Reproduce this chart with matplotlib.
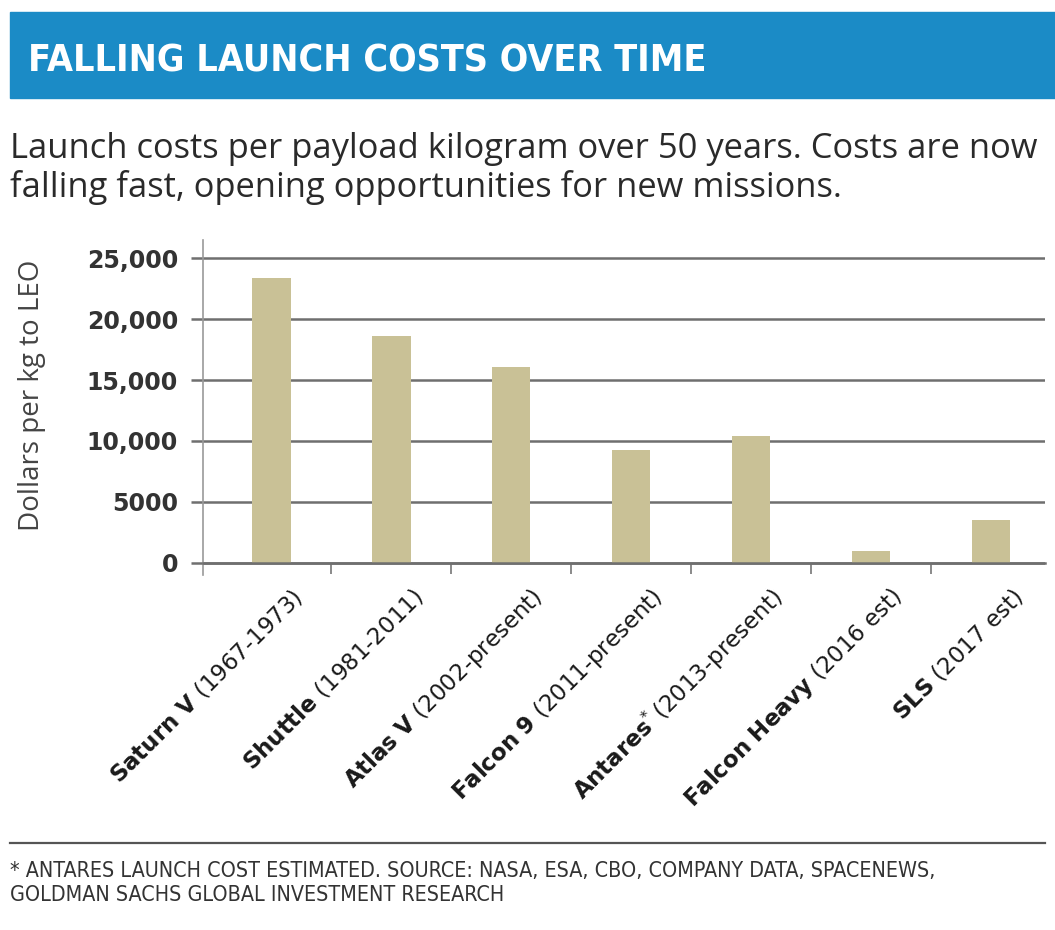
import matplotlib
matplotlib.use("Agg")
import matplotlib.pyplot as plt
from matplotlib.patches import Rectangle
from matplotlib.lines import Line2D
from matplotlib.transforms import ScaledTranslation
import numpy as np

vehicles = [r"$\mathbf{Saturn\ V}$ (1967-1973)",
            r"$\mathbf{Shuttle}$ (1981-2011)",
            r"$\mathbf{Atlas\ V}$ (2002-present)",
            r"$\mathbf{Falcon\ 9}$ (2011-present)",
            r"$\mathbf{Antares}^{*}\,$(2013-present)",
            r"$\mathbf{Falcon\ Heavy}$ (2016 est)",
            r"$\mathbf{SLS}$ (2017 est)"]
cost_per_kg = [23400, 18600, 16100, 9300, 10400, 1000, 3500]
yticks = [0, 5000, 10000, 15000, 20000, 25000]
ytick_labels = ["0", "5000", "10,000", "15,000", "20,000", "25,000"]

blue = "#1b8bc6"
bar_color = "#c9c196"
grid_color = "#6f6f6f"

fig = plt.figure(figsize=(10.55, 9.3), dpi=100)
fig.patch.set_facecolor("white")

# header band
fig.patches.append(Rectangle((10 / 1055, 1 - 98 / 930), 1.0, 86 / 930,
                             transform=fig.transFigure, color=blue, zorder=0))
fig.text(28 / 1055, 1 - 61 / 930, "FALLING LAUNCH COSTS OVER TIME",
         family="DejaVu Sans", stretch="condensed", weight="bold",
         fontsize=27, color="white", va="center", ha="left")

fig.text(10 / 1055, 1 - 158 / 930,
         "Launch costs per payload kilogram over 50 years. Costs are now",
         family="Open Sans", fontsize=24.8, color="#2a2a2a", va="baseline")
fig.text(10 / 1055, 1 - 197 / 930,
         "falling fast, opening opportunities for new missions.",
         family="Open Sans", fontsize=24.8, color="#2a2a2a", va="baseline")

ax = fig.add_axes([203 / 1055, 355 / 930, 842 / 1055, 335 / 930])
x = np.arange(len(vehicles))
ax.bar(x, cost_per_kg, width=0.32, color=bar_color, zorder=2)

ax.set_xlim(-0.57, 6.45)
ax.set_ylim(-1000, 26500)
ax.set_yticks(yticks)
ax.set_yticklabels(ytick_labels, family="DejaVu Sans", weight="bold",
                   fontsize=17, color="#333333")
ax.grid(axis="y", color=grid_color, linewidth=1.8, zorder=1)
ax.tick_params(axis="y", direction="out", length=9, width=1.8,
               color=grid_color, pad=9)

for s in ["top", "right"]:
    ax.spines[s].set_visible(False)
ax.spines["left"].set_color("#9a9a9a")
ax.spines["left"].set_linewidth(1.2)
ax.spines["bottom"].set_position(("data", 0))
ax.spines["bottom"].set_color(grid_color)
ax.spines["bottom"].set_linewidth(1.8)

ax.set_xticks(x)
ax.set_xticklabels(vehicles, rotation=45, ha="right", va="center",
                   rotation_mode="anchor", fontsize=16.5, color="#1a1a1a")
ax.set_xticks(x[:-1] + 0.5, minor=True)
ax.tick_params(axis="x", which="major", length=0, pad=22)
ax.tick_params(axis="x", which="minor", direction="out", length=8,
               width=1.2, color="#777777")
for lab in ax.get_xticklabels():
    lab.set_transform(lab.get_transform() +
                      ScaledTranslation(0.28, 0, fig.dpi_scale_trans))

fig.text(32 / 1055, 1 - 395 / 930, "Dollars per kg to LEO", family="Open Sans",
         fontsize=20, color="#444444", rotation=90, va="center", ha="center")

fig.lines.append(Line2D([10 / 1055, 1045 / 1055], [1 - 843 / 930, 1 - 843 / 930],
                        transform=fig.transFigure, color="#555555", linewidth=1.6))
foot = ["* ANTARES LAUNCH COST ESTIMATED. SOURCE: NASA, ESA, CBO, COMPANY DATA, SPACENEWS,",
        "GOLDMAN SACHS GLOBAL INVESTMENT RESEARCH"]
fig.text(10 / 1055, 1 - 877 / 930, foot[0], family="DejaVu Sans",
         stretch="condensed", fontsize=15.4, color="#333333", va="baseline")
fig.text(10 / 1055, 1 - 901 / 930, foot[1], family="DejaVu Sans",
         stretch="condensed", fontsize=15.4, color="#333333", va="baseline")

fig.savefig("out.png", dpi=100)
